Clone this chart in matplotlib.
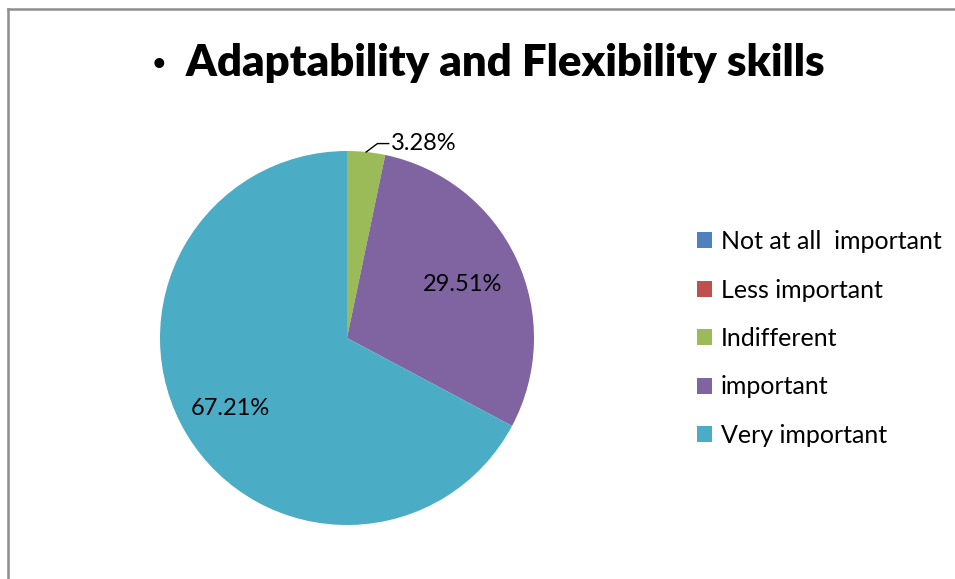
import numpy as np
import matplotlib
matplotlib.use("Agg")
import matplotlib.pyplot as plt
from matplotlib.patches import Patch
from matplotlib.lines import Line2D

# data
categories = ["Not at all  important", "Less important", "Indifferent", "important", "Very important"]
values = [0.0, 0.0, 3.28, 29.51, 67.21]
colors = ["#4F81BD", "#C0504D", "#9BBB59", "#8064A2", "#4BACC6"]
title = "\u00b7  Adaptability and Flexibility skills"

plt.rcParams["font.family"] = ["Lato", "DejaVu Sans"]

W, H = 955, 579
fig = plt.figure(figsize=(W / 100, H / 100), dpi=100)

# gray frame (only left and top edges are inside the picture)
fx, fy = 7.5 / W, 1 - 8.5 / H
fig.add_artist(Line2D([fx, fx], [-0.01, fy], transform=fig.transFigure, color="#8f8f8f", lw=1.8))
fig.add_artist(Line2D([fx, 1.02], [fy, fy], transform=fig.transFigure, color="#8f8f8f", lw=1.8))

cx, cy, r = 347, 338, 187
ax = fig.add_axes([(cx - r) / W, (H - cy - r) / H, 2 * r / W, 2 * r / H])

wedges, _ = ax.pie(values, colors=colors, startangle=90, counterclock=False,
                   radius=1, wedgeprops=dict(linewidth=0))
ax.set_xlim(-1, 1)
ax.set_ylim(-1, 1)
ax.set_aspect("equal")
ax.axis("off")

for w, v in zip(wedges, values):
    if v <= 0:
        continue
    mid = np.deg2rad((w.theta1 + w.theta2) / 2)
    lbl = f"{v:.2f}%"
    if v < 10:
        x0, y0 = np.cos(mid), np.sin(mid)
        xs = [x0, x0 + 0.06, x0 + 0.12]
        ys = [y0, y0 + 0.045, y0 + 0.045]
        ax.plot(xs, ys, color="black", lw=1, clip_on=False)
        ax.text(xs[-1] + 0.01, ys[-1], lbl, fontsize=17, ha="left", va="center")
    else:
        d = 0.68 if v < 50 else 0.73
        ax.text(d * np.cos(mid), d * np.sin(mid), lbl, fontsize=17, ha="center", va="center")

fig.text(488.5 / W, 1 - 63 / H, title, fontsize=31.5, fontweight="heavy", ha="center", va="center")

handles = [Patch(facecolor=c, edgecolor="none") for c in colors]
fig.legend(handles, categories, loc="upper left", bbox_to_anchor=(697 / W, 1 - 230 / H),
           frameon=False, fontsize=18, handlelength=0.6, handleheight=0.6,
           handletextpad=0.35, labelspacing=1.02, borderpad=0, borderaxespad=0)

fig.savefig("out.png", dpi=100)
